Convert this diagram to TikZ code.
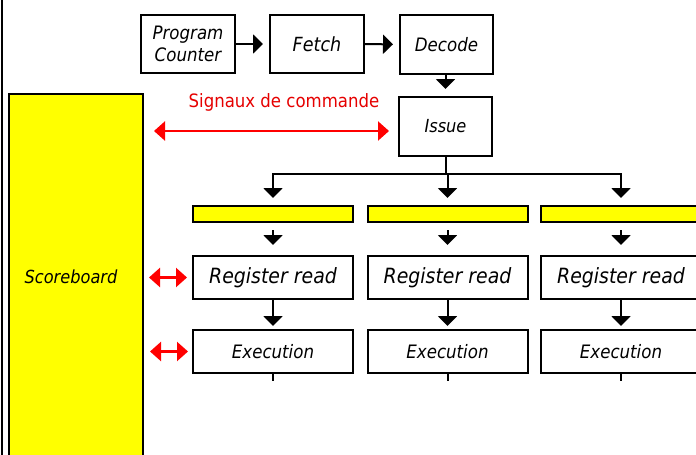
\documentclass[tikz,border=0pt]{standalone}
\usepackage{fontspec}
\setmainfont{DejaVu Sans Condensed}[ItalicFont={DejaVu Sans Condensed Oblique}]
\usetikzlibrary{arrows.meta}
\definecolor{sbyellow}{RGB}{255,255,0}
\definecolor{sigred}{RGB}{230,0,0}
\newcommand{\fsz}[1]{\fontsize{#1}{22}\selectfont}
\tikzset{
  stagebox/.style={draw=black, line width=2pt, fill=white, inner sep=0pt,
    align=center, font=\itshape\fsz{18.5}},
  bufbar/.style={draw=black, line width=2pt, fill=sbyellow, inner sep=0pt,
    minimum width=160pt, minimum height=16pt},
  flow/.style={line width=2pt, -{Triangle[width=19pt,length=10pt]}},
  plain/.style={line width=2pt},
  ctrl/.style={line width=2.2pt, red, {Triangle[width=19pt,length=11pt]}-{Triangle[width=19pt,length=11pt]}}
}
\begin{document}
\begin{tikzpicture}[x=1pt,y=-1pt]
\clip (0,0) rectangle (696,455);
\fill[white] (0,0) rectangle (696,455);
% frame line at the left edge
\draw[line width=2pt] (1.5,0) -- (1.5,455);
% scoreboard column
\node[draw=black, line width=2pt, fill=sbyellow, minimum width=134pt, minimum height=400pt] (sb) at (76,294) {};
\node[font=\itshape\fsz{18}] (sbtxt) at (71,277) {Scoreboard};
% front end of the pipeline
\node[stagebox, minimum width=94pt, minimum height=58pt] (pc) at (188,44) {Program\\Counter};
\node[stagebox, minimum width=94pt, minimum height=58pt, font=\itshape\fsz{19.5}] (fetch) at (317,44) {Fetch};
\node[stagebox, minimum width=93pt, minimum height=59pt] (decode) at (446.5,44.5) {Decode};
\node[stagebox, minimum width=93pt, minimum height=59pt, font=\itshape\fsz{18}] (issue) at (445.5,126.5) {Issue};
\draw[flow, shorten >=6pt] (pc) -- (fetch);
\draw[flow, shorten >=6pt] (fetch) -- (decode);
\draw[flow, shorten >=7pt] (decode.south -| issue.north) -- (issue.north);
% control signals
\node[text=sigred, font=\fsz{18.4}] (siglbl) at (284,102) {Signaux de commande};
\draw[ctrl, shorten <=10pt, shorten >=9pt] ([yshift=-4.5pt]sb.east |- issue) -- ([yshift=-4.5pt]issue.west);
% three parallel lanes
\coordinate (split) at (445.5,174);
\foreach \i/\x in {1/273,2/447.5,3/621}{
  \node[bufbar] (buf\i) at (\x,214) {};
  \node[stagebox, minimum width=160pt, minimum height=43pt, font=\itshape\fsz{21}] (rr\i) at (\x,277.5) {Register read};
  \node[stagebox, minimum width=160pt, minimum height=43pt] (ex\i) at (\x,351.5) {Execution};
  \coordinate (top\i) at (\x,174);
  \coordinate (out\i) at (\x,381);
  \draw[flow, shorten >=7pt] (top\i) -- (buf\i.north);
  \draw[flow, shorten <=7pt, shorten >=10pt] (buf\i.south) -- (rr\i.north);
  \draw[flow, shorten >=3pt] (rr\i.south) -- (ex\i.north);
  \draw[plain] (ex\i.south) -- (out\i);
}
\draw[plain] (issue.south) -- (split);
\draw[plain] ([xshift=-1pt]top1) -- ([xshift=1pt]top3);
% scoreboard links to the first lane
\draw[ctrl, shorten <=5pt, shorten >=5pt] (sb.east |- rr1) -- (rr1.west);
\draw[ctrl, shorten <=6pt, shorten >=4pt] (sb.east |- ex1) -- (ex1.west);
\end{tikzpicture}
\end{document}
